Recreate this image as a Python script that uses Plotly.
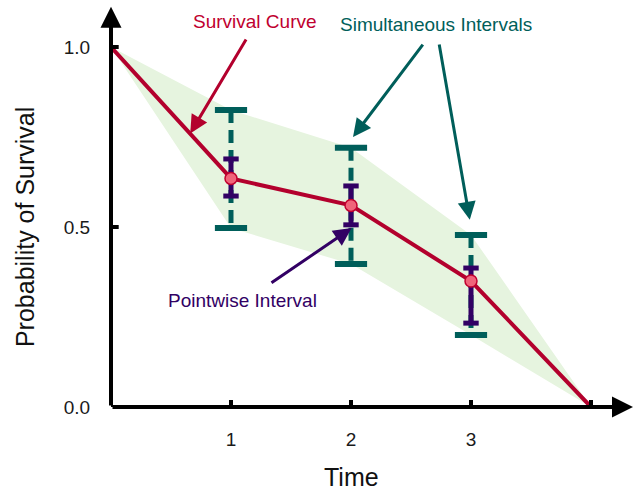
import plotly.graph_objects as go

# ---- data ----
times = [0, 1, 2, 3, 4]
survival = [1.0, 0.635, 0.56, 0.35, 0.0]
interval_times = [1, 2, 3]
sim_lower = [0.497, 0.397, 0.200]
sim_upper = [0.825, 0.720, 0.478]
pw_lower = [0.586, 0.506, 0.233]
pw_upper = [0.689, 0.614, 0.386]
x_tick_vals = [1, 2, 3]
x_tick_text = ["1", "2", "3"]
x_tick_marks = [1, 2, 3, 4]
y_tick_vals = [0.0, 0.5, 1.0]
y_tick_text = ["0.0", "0.5", "1.0"]

RED = "#b3002d"
TEAL = "#005e5a"
PURPLE = "#320064"
GREEN = "#e6f4df"
FONT = "Liberation Sans, Arial, Helvetica, sans-serif"

fig = go.Figure()

# band: from the start point along upper simultaneous limits to the end, back along lower limits
band_x = [times[0]] + interval_times + [times[-1]] + interval_times[::-1] + [times[0]]
band_y = [survival[0]] + sim_upper + [survival[-1]] + sim_lower[::-1] + [survival[0]]
fig.add_trace(go.Scatter(x=band_x, y=band_y, fill="toself", fillcolor=GREEN,
                         mode="lines", line=dict(width=0), hoverinfo="skip", showlegend=False))

# simultaneous intervals (dashed)
sx, sy = [], []
for t, lo, hi in zip(interval_times, sim_lower, sim_upper):
    sx += [t, t, None]
    sy += [hi, lo, None]
fig.add_trace(go.Scatter(x=sx, y=sy, mode="lines",
                         line=dict(color=TEAL, width=5, dash="13px,7px"), showlegend=False))
fig.add_trace(go.Scatter(x=interval_times * 2, y=sim_upper + sim_lower, mode="markers",
                         marker=dict(symbol="line-ew", size=23, color=TEAL,
                                     line=dict(color=TEAL, width=6)), showlegend=False))

# pointwise intervals (solid)
px_, py_ = [], []
for t, lo, hi in zip(interval_times, pw_lower, pw_upper):
    px_ += [t, t, None]
    py_ += [hi, lo, None]
fig.add_trace(go.Scatter(x=px_, y=py_, mode="lines",
                         line=dict(color=PURPLE, width=5), showlegend=False))
fig.add_trace(go.Scatter(x=interval_times * 2, y=pw_upper + pw_lower, mode="markers",
                         marker=dict(symbol="line-ew", size=11, color=PURPLE,
                                     line=dict(color=PURPLE, width=5)), showlegend=False))

# survival curve
fig.add_trace(go.Scatter(x=times, y=survival, mode="lines",
                         line=dict(color=RED, width=4), showlegend=False))
fig.add_trace(go.Scatter(x=times[1:-1], y=survival[1:-1], mode="markers",
                         marker=dict(symbol="circle", size=12, color="#f0647a",
                                     line=dict(color="#c0002f", width=1.5)), showlegend=False))

# crossing tick marks
fig.add_trace(go.Scatter(x=x_tick_marks, y=[0] * len(x_tick_marks), mode="markers",
                         marker=dict(symbol="line-ns", size=10, color="black",
                                     line=dict(color="black", width=4)), showlegend=False))
fig.add_trace(go.Scatter(x=[0] * len(y_tick_vals), y=y_tick_vals, mode="markers",
                         marker=dict(symbol="line-ew", size=11, color="black",
                                     line=dict(color="black", width=4)), showlegend=False))

annotations = []
# axis arrows
annotations.append(dict(x=4.35, y=0, ax=0, ay=0, xref="x", yref="y", axref="x", ayref="y",
                        text="", showarrow=True, arrowhead=2, arrowsize=1.05, arrowwidth=4,
                        arrowcolor="black", standoff=0, startstandoff=0))
annotations.append(dict(x=0, y=1.112, ax=0, ay=0, xref="x", yref="y", axref="x", ayref="y",
                        text="", showarrow=True, arrowhead=2, arrowsize=1.05, arrowwidth=4,
                        arrowcolor="black", standoff=0, startstandoff=0))

# callout arrows
def callout(tail, tip, color):
    return dict(x=tip[0], y=tip[1], ax=tail[0], ay=tail[1], xref="x", yref="y",
                axref="x", ayref="y", text="", showarrow=True, arrowhead=2,
                arrowsize=1.2, arrowwidth=3, arrowcolor=color, standoff=0, startstandoff=0)

annotations.append(callout((1.133, 1.025), (0.66, 0.76), RED))
annotations.append(callout((2.608, 1.011), (2.017, 0.75), TEAL))
annotations.append(callout((2.733, 1.011), (2.99, 0.52), TEAL))
annotations.append(callout((1.325, 0.342), (2.005, 0.497), PURPLE))

# callout texts
def label(x, y, text, color, size=19, **kw):
    d = dict(x=x, y=y, xref="x", yref="y", text=text, showarrow=False,
             xanchor="center", yanchor="middle",
             font=dict(family=FONT, size=size, color=color))
    d.update(kw)
    return d

annotations.append(label(1.2, 1.072, "Survival Curve", "#c0002f"))
annotations.append(label(2.708, 1.062, "Simultaneous Intervals", TEAL))
annotations.append(label(1.092, 0.297, "Pointwise Interval", PURPLE))

# axis titles
annotations.append(dict(x=2, y=-0.172, xref="x", yref="paper", text="Time", showarrow=False,
                        xanchor="center", yanchor="middle",
                        font=dict(family=FONT, size=25, color="#111111")))
annotations.append(dict(x=-0.164, y=0.5, xref="paper", yref="y", text="Probability of Survival",
                        textangle=-90, showarrow=False, xanchor="center", yanchor="middle",
                        font=dict(family=FONT, size=25, color="#111111")))

fig.update_layout(
    width=635, height=491,
    margin=dict(l=111, r=0, t=0, b=84),
    paper_bgcolor="white", plot_bgcolor="white",
    annotations=annotations,
    xaxis=dict(range=[0, 524 / 120], tickmode="array", tickvals=x_tick_vals, ticktext=x_tick_text,
               ticks="outside", ticklen=15, tickcolor="rgba(0,0,0,0)", automargin=False,
               showgrid=False, zeroline=False, showline=False,
               tickfont=dict(family=FONT, size=19, color="#1a1a1a")),
    yaxis=dict(range=[0, 407 / 360], tickmode="array", tickvals=y_tick_vals, ticktext=y_tick_text,
               ticks="outside", ticklen=16, tickcolor="rgba(0,0,0,0)", automargin=False,
               showgrid=False, zeroline=False, showline=False,
               tickfont=dict(family=FONT, size=19, color="#1a1a1a")),
)

fig.write_html("out.html", config={"displayModeBar": False},
               post_script="document.body.style.margin='0';document.body.style.overflow='hidden';")
